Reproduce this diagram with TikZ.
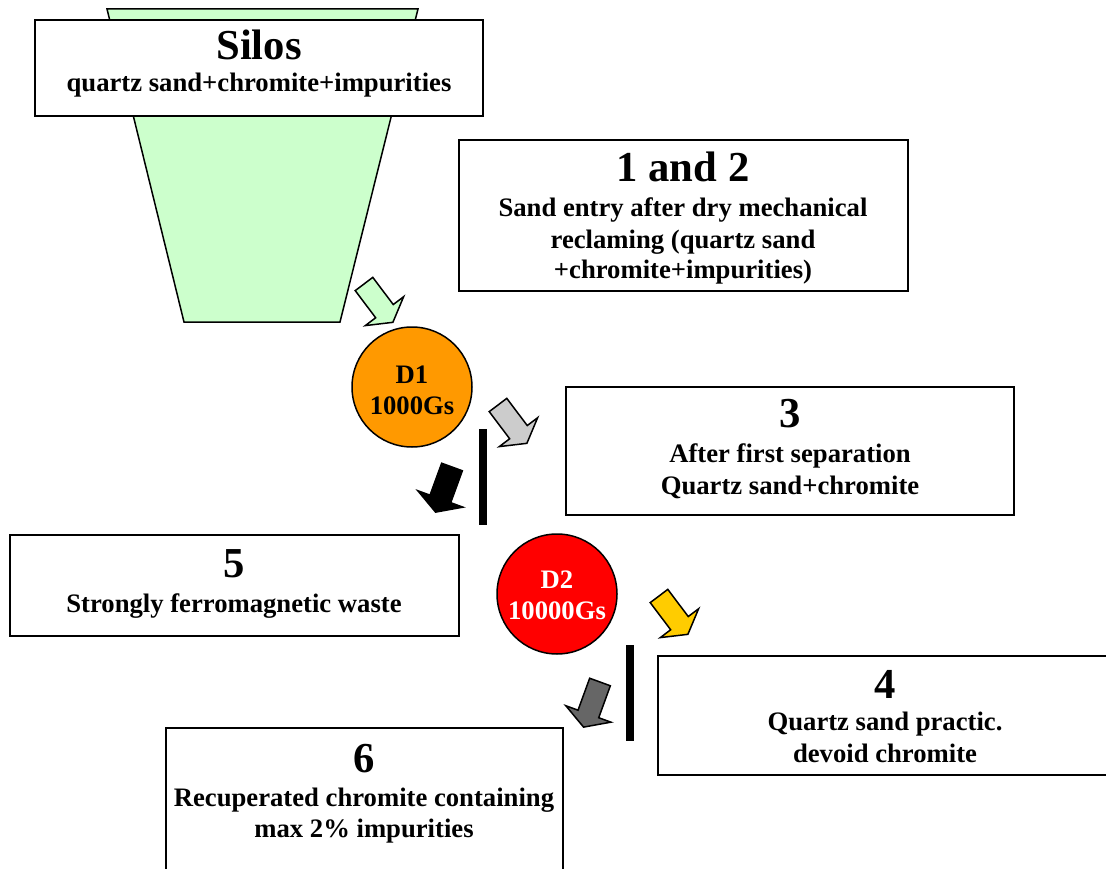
\documentclass[tikz,border=0pt]{standalone}
\usepackage{fontspec}
\setmainfont{Liberation Serif}
\definecolor{silogreen}{HTML}{CCFFCC}
\definecolor{dorange}{HTML}{FF9900}
\definecolor{dred}{HTML}{FF0000}
\definecolor{agray}{HTML}{CCCCCC}
\definecolor{ayellow}{HTML}{FFCC00}
\definecolor{adark}{HTML}{666666}
\begin{document}
\begin{tikzpicture}[x=1pt,y=-1pt,
  box/.style={draw=black, line width=2pt, fill=white, inner sep=0pt, outer sep=0pt, anchor=north west},
  big/.style={font=\fontsize{42.67}{48}\selectfont\bfseries, anchor=base, inner sep=0pt},
  body/.style={font=\fontsize{26.67}{32}\selectfont\bfseries, anchor=base, inner sep=0pt},
  disc/.style={circle, draw=black, line width=1.5pt, minimum size=120pt, inner sep=0pt},
  sepbar/.style={fill=black, minimum width=8pt, minimum height=96pt, inner sep=0pt},
  barr/.style={draw=black, line width=1.5pt, line join=miter},
  pics/blockarrow/.style={code={\draw[barr, fill=#1] (0,-11) -- (34,-11) -- (34,-24) -- (48,0) -- (34,24) -- (34,11) -- (0,11) -- cycle;}}
]
\useasboundingbox (0,0) rectangle (1106,869);
% silo
\draw[line width=1.5pt, fill=silogreen] (107,9) -- (418,9) -- (340,322) -- (184,322) -- cycle;
\node[box, minimum width=448pt, minimum height=96pt] (silosbox) at (35,20) {};
\node[big] (silostitle) at (259,60) {Silos};
\node[body] (silostext) at (259,92) {quartz sand+chromite+impurities};
% box 1 and 2
\node[box, minimum width=449pt, minimum height=151pt] (box12) at (459,140) {};
\node[big] (t12) at (683,182) {1 and 2};
\node[body] (t12a) at (683,217) {Sand entry after dry mechanical};
\node[body] (t12b) at (683,248) {reclaming (quartz sand};
\node[body] (t12c) at (683,279) {+chromite+impurities)};
% box 3
\node[box, minimum width=448pt, minimum height=128pt] (box3) at (566,387) {};
\node[big] (t3) at (790,427) {3};
\node[body] (t3a) at (790,462) {After first separation};
\node[body] (t3b) at (790,494) {Quartz sand+chromite};
% box 5
\node[box, minimum width=449pt, minimum height=101pt] (box5) at (10,535) {};
\node[big] (t5) at (234,577) {5};
\node[body] (t5a) at (234,612) {Strongly ferromagnetic waste};
% box 4
\node[box, minimum width=454pt, minimum height=119pt] (box4) at (658,656) {};
\node[big] (t4) at (885,698) {4};
\node[body] (t4a) at (885,730) {Quartz sand practic.};
\node[body] (t4b) at (885,762) {devoid chromite};
% box 6
\node[box, minimum width=397pt, minimum height=160pt] (box6) at (166,728) {};
\node[big] (t6) at (364,772) {6};
\node[body] (t6a) at (364,806) {Recuperated chromite containing};
\node[body] (t6b) at (364,837) {max 2\% impurities};
% discs
\node[disc, fill=dorange] (d1) at (412,387) {};
\node[body] (d1a) at (412,383) {D1};
\node[body] (d1b) at (412,414) {1000Gs};
\node[disc, fill=dred] (d2) at (557,594) {};
\node[body, text=white] (d2a) at (557,588) {D2};
\node[body, text=white] (d2b) at (557,619) {10000Gs};
% separator bars
\node[sepbar] (bar1) at (482.5,477) {};
\node[sepbar] (bar2) at (630,693) {};
% block arrows
\pic[rotate=-53] at (364,284) {blockarrow=silogreen};
\pic[rotate=-53] at (498,405) {blockarrow=agray};
\pic[rotate=-110] at (452,467) {blockarrow=black};
\pic[rotate=-53] at (659,596) {blockarrow=ayellow};
\pic[rotate=-110] at (600,682) {blockarrow=adark};
\end{tikzpicture}
\end{document}
